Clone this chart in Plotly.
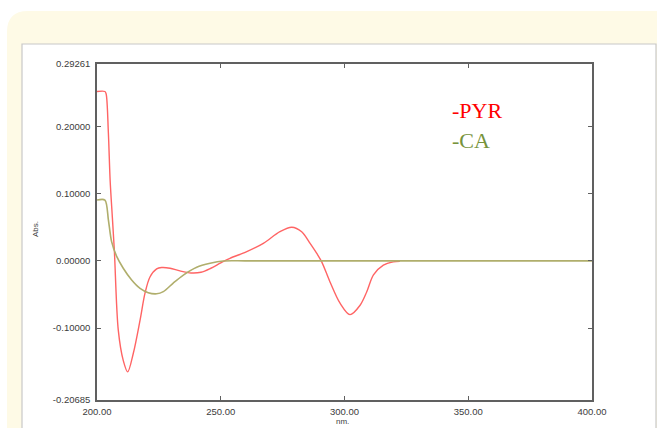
import plotly.graph_objects as go

# ---- data ----
pyr_nm = [200.0, 203.2, 203.7, 204.6, 205.3, 206.2, 207.0, 208.6, 210.6, 212.4, 214.7,
          217.4, 219.4, 221.4, 224.1, 226.1, 229.5, 233.5, 238.0, 242.0, 246.0, 250.0,
          253.7, 260.5, 267.2, 273.9, 278.7, 282.7, 286.1, 288.8, 290.8, 294.1, 298.2,
          302.2, 306.3, 309.0, 311.7, 315.7, 319.7, 322.4]
pyr_abs = [0.2517, 0.2517, 0.2480, 0.1900, 0.1202, 0.0650, 0.0160, -0.1030, -0.1480,
           -0.1650, -0.1370, -0.0880, -0.0480, -0.0240, -0.0120, -0.0100, -0.0110,
           -0.0150, -0.0180, -0.0170, -0.0110, -0.0030, 0.0038, 0.0136, 0.0260, 0.0433,
           0.0500, 0.0433, 0.0260, 0.0110, -0.0015, -0.0310, -0.0630, -0.0800, -0.0660,
           -0.0460, -0.0210, -0.0065, -0.0015, -0.0005]

ca_nm = [200.0, 203.2, 204.6, 205.9, 208.0, 210.6, 214.0, 217.4, 220.7, 224.1, 226.8,
         230.8, 234.9, 240.3, 245.7, 251.0, 260.0, 300.0, 350.0, 400.0]
ca_abs = [0.0904, 0.0904, 0.0610, 0.0285, 0.0062, -0.0110, -0.0285, -0.0410, -0.0474,
          -0.0490, -0.0458, -0.0330, -0.0211, -0.0096, -0.0037, -0.0002, 0.0, 0.0, 0.0, 0.0]

y_tickvals = [-0.20685, -0.1, 0.0, 0.1, 0.2, 0.29261]
y_ticktext = ["-0.20685", "-0.10000", "0.00000", "0.10000", "0.20000", "0.29261"]
x_tickvals = [200, 250, 300, 350, 400]
x_ticktext = ["200.00", "250.00", "300.00", "350.00", "400.00"]

# ---- figure ----
W, H = 657, 428
L, R, T, B = 97, 592, 64, 400

def px(x):
    return (x - L) / (R - L)

def py(y):
    return (B - y) / (B - T)

fig = go.Figure()
fig.add_trace(go.Scatter(x=pyr_nm, y=pyr_abs, mode="lines",
                         line=dict(color="#ff6464", width=1.4, shape="spline", smoothing=0.9),
                         showlegend=False, hoverinfo="skip"))
fig.add_trace(go.Scatter(x=ca_nm, y=ca_abs, mode="lines",
                         line=dict(color="#b0ae6c", width=1.6, shape="spline", smoothing=0.8),
                         showlegend=False, hoverinfo="skip"))

shapes = []
# cream rounded panel
shapes.append(dict(type="path", xref="paper", yref="paper", layer="below",
                   path=(f"M {px(7)},{py(440)} L {px(7)},{py(32)} "
                         f"Q {px(7)},{py(11)} {px(28)},{py(11)} "
                         f"L {px(670)},{py(11)} L {px(670)},{py(440)} Z"),
                   fillcolor="#fefae6", line=dict(width=0)))
# white inner box
shapes.append(dict(type="rect", xref="paper", yref="paper", layer="below",
                   x0=px(22), x1=px(656), y0=py(440), y1=py(44),
                   fillcolor="white", line=dict(color="#c8c8c8", width=1.2)))
fig.update_layout(shapes=shapes)

font_axis = dict(family="Liberation Sans, Arial", size=9.5, color="#3c3c3c")

fig.update_xaxes(range=[200, 400], showgrid=False, zeroline=False,
                 showline=True, linecolor="#606060", linewidth=1.5, mirror="ticks",
                 ticks="inside", ticklen=4, tickcolor="#606060", tickwidth=1,
                 tickvals=x_tickvals, ticktext=x_ticktext, tickfont=font_axis,
                 ticklabelstandoff=2)
fig.update_yaxes(range=[-0.20685, 0.29261], showgrid=False, zeroline=False,
                 showline=True, linecolor="#606060", linewidth=1.5, mirror="ticks",
                 ticks="inside", ticklen=4, tickcolor="#606060", tickwidth=1,
                 tickvals=y_tickvals, ticktext=y_ticktext, tickfont=font_axis,
                 ticklabelstandoff=3)

annotations = [
    dict(text="nm.", xref="paper", yref="paper", x=px(342), y=py(421.5),
         xanchor="center", yanchor="middle",
         showarrow=False, font=dict(family="Liberation Sans, Arial", size=8, color="#3c3c3c")),
    dict(text="Abs.", xref="paper", yref="paper", x=px(35), y=py(229), textangle=-90,
         xanchor="center", yanchor="middle",
         showarrow=False, font=dict(family="Liberation Sans, Arial", size=8, color="#3c3c3c")),
    dict(text="-PYR", xref="paper", yref="paper", x=px(450), y=py(111),
         xanchor="left", yanchor="middle",
         showarrow=False, font=dict(family="Liberation Serif, serif", size=22, color="#ff0000")),
    dict(text="-CA", xref="paper", yref="paper", x=px(450), y=py(140),
         xanchor="left", yanchor="middle",
         showarrow=False, font=dict(family="Liberation Serif, serif", size=22, color="#77933c")),
]
fig.update_layout(annotations=annotations)

fig.update_layout(width=W, height=H,
                  margin=dict(l=L, r=W - R, t=T, b=H - B, pad=0),
                  paper_bgcolor="white", plot_bgcolor="white")

fig.write_html("out.html")
